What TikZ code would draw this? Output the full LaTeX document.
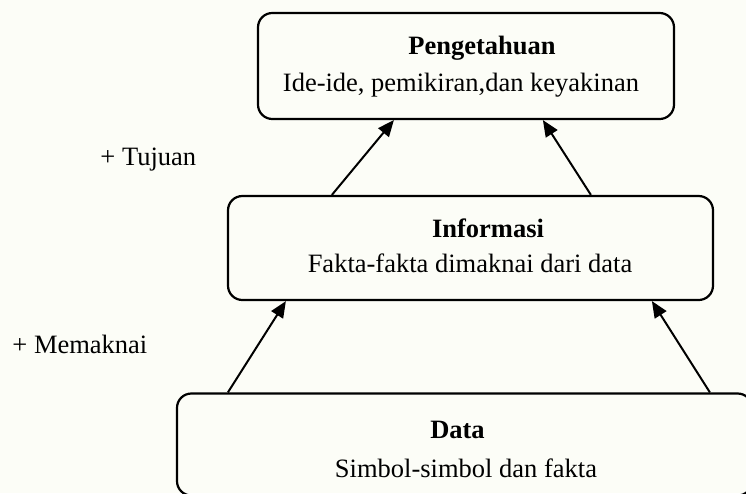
\documentclass[tikz,border=0pt]{standalone}
\usepackage{fontspec}
\setmainfont{Liberation Serif}
\usetikzlibrary{arrows.meta,calc}
\definecolor{paper}{RGB}{252,253,247}
\def\px{0.4528pt}
\tikzset{
  box/.style={draw=black, line width=1pt, rounded corners=6.5pt, inner sep=0pt},
  txt/.style={anchor=base, inner sep=0pt, font=\fontsize{12}{14}\selectfont},
  ttl/.style={txt, font=\fontsize{12}{14}\selectfont\bfseries},
  arr/.style={draw=black, line width=0.9pt, -{Triangle[length=7.4pt,width=6.2pt]}}
}
\begin{document}
\begin{tikzpicture}[x=\px, y=-\px]
  % canvas
  \fill[paper] (0,0) rectangle (746,493);
  \useasboundingbox (0,0) rectangle (746,493);

  % three levels
  \node[box, minimum width=416*\px, minimum height=106*\px] (peng) at (466,66) {};
  \node[box, minimum width=485*\px, minimum height=104*\px] (info) at (470.5,248) {};
  \node[box, minimum width=575*\px, minimum height=102*\px] (data) at (464.5,444.5) {};

  % texts of the levels
  \node[ttl] (pengT) at (482,54) {Pengetahuan};
  \node[txt] (pengL) at (461,91) {Ide-ide, pemikiran,dan keyakinan};
  \node[ttl] (infoT) at (488,237) {Informasi};
  \node[txt] (infoL) at (470,272) {Fakta-fakta dimaknai dari data};
  \node[ttl] (dataT) at (457.5,438) {Data};
  \node[txt] (dataL) at (466,477) {Simbol-simbol dan fakta};

  % side labels
  \node[txt, anchor=base west] (tuj) at (100,165) {+ Tujuan};
  \node[txt, anchor=base west] (mem) at (12,353) {+ Memaknai};

  % arrows between levels
  \draw[arr] ($(info.north west)+(105,0)$) -- ($(peng.south west)+(137,0)$);
  \draw[arr] ($(info.north west)+(364,0)$) -- ($(peng.south west)+(286,0)$);
  \draw[arr] ($(data.north west)+(52,0)$) -- ($(info.south west)+(59,0)$);
  \draw[arr] ($(data.north west)+(534,0)$) -- ($(info.south west)+(425,0)$);
\end{tikzpicture}
\end{document}
